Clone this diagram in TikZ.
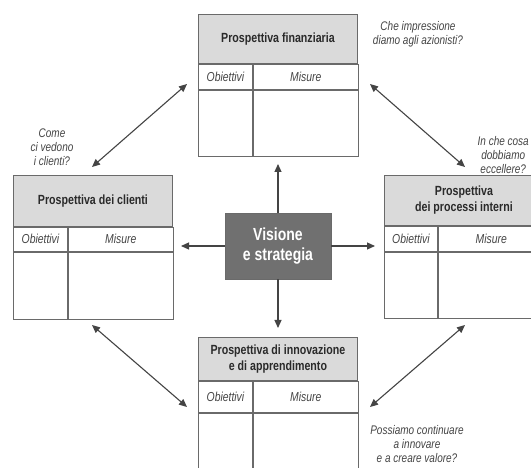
\documentclass[tikz,border=0pt]{standalone}
\usepackage{fontspec}
\setmainfont{Liberation Sans}[FakeStretch=0.80]
\usetikzlibrary{arrows.meta}
\definecolor{linec}{HTML}{6A6A6A}
\definecolor{hdrgray}{HTML}{DADADA}
\definecolor{textc}{HTML}{2A2A2A}
\definecolor{qc}{HTML}{454545}
\definecolor{arrc}{HTML}{444444}
\definecolor{visfill}{HTML}{707070}
\tikzset{
  hdr/.style={draw=linec, fill=hdrgray, line width=0.9pt, inner sep=0pt, anchor=north west,
    font=\bfseries\fontsize{13.3}{16}\selectfont, text=textc, align=center},
  cell/.style={draw=linec, line width=0.9pt, inner sep=0pt, anchor=north west,
    font=\itshape\fontsize{13}{14}\selectfont, text=qc},
  quest/.style={font=\itshape\fontsize{12.5}{13.8}\selectfont, text=qc, align=center},
  vis/.style={draw=linec, fill=visfill, line width=0.6pt, inner sep=0pt,
    font=\bfseries\fontsize{17.5}{19.5}\selectfont, text=white, align=center},
  arr/.style={draw=arrc, line width=1.1pt, -{Triangle[length=8pt,width=7pt]}},
  darr/.style={draw=arrc, line width=1.1pt, {Triangle[length=8pt,width=7pt]}-{Triangle[length=8pt,width=7pt]}}
}
% #1 name, #2 x, #3 y, #4 header h, #5 row h, #6 body h, #7 left col w, #8 title
\newcommand\bscbox[8]{%
  \node[hdr, minimum width=159pt, minimum height=#4pt] (#1H) at (#2,-#3) {#8};
  \node[cell, minimum width=#7pt, minimum height=#5pt] (#1O) at (#1H.south west) {Obiettivi};
  \node[cell, minimum width=159pt-#7pt, minimum height=#5pt] (#1M) at (#1O.north east) {Misure};
  \node[cell, minimum width=#7pt, minimum height=#6pt] (#1OB) at (#1O.south west) {};
  \node[cell, minimum width=159pt-#7pt, minimum height=#6pt] (#1MB) at (#1OB.north east) {};
}
\begin{document}
\begin{tikzpicture}[x=1pt,y=1pt]
\useasboundingbox (0,0) rectangle (531,-468);
\clip (0,0) rectangle (531,-468);
\fill[white] (0,0) rectangle (531,-468);

\bscbox{fin}{198}{14}{49}{25}{66}{54}{Prospettiva finanziaria}
\bscbox{cli}{13}{175}{51}{24}{67}{54}{Prospettiva dei clienti}
\bscbox{proc}{384}{175}{50}{25}{66}{53}{Prospettiva\\dei processi interni}
\bscbox{inn}{198}{337}{43}{31}{70}{54}{Prospettiva di innovazione\\e di apprendimento}

\node[vis, minimum width=106pt, minimum height=66pt] (vis) at (278,-246) {Visione\\e strategia};

\coordinate (tU) at (278,-164);
\coordinate (tL) at (181,-246);
\coordinate (tR) at (375,-246);
\coordinate (tD) at (278,-328);
\draw[arr] (vis.north) -- (tU);
\draw[arr] (vis.west) -- (tL);
\draw[arr] (vis.east) -- (tR);
\draw[arr] (vis.south) -- (tD);

\coordinate (a1) at (187,-84);  \coordinate (b1) at (92,-167);
\coordinate (a2) at (370,-84);  \coordinate (b2) at (465,-167);
\coordinate (a3) at (92,-325);  \coordinate (b3) at (187,-407);
\coordinate (a4) at (465,-325); \coordinate (b4) at (370,-407);
\draw[darr] (a1) -- (b1);
\draw[darr] (a2) -- (b2);
\draw[darr] (a3) -- (b3);
\draw[darr] (a4) -- (b4);

\node[quest] (q1) at (418,-34) {Che impressione\\diamo agli azionisti?};
\node[quest] (q2) at (52,-147) {Come\\ci vedono\\i clienti?};
\node[quest, anchor=east, inner sep=1pt] (q3) at (530,-155) {In che cosa\\dobbiamo\\eccellere?};
\node[quest] (q4) at (417,-444) {Possiamo continuare\\a innovare\\e a creare valore?};
\end{tikzpicture}
\end{document}
